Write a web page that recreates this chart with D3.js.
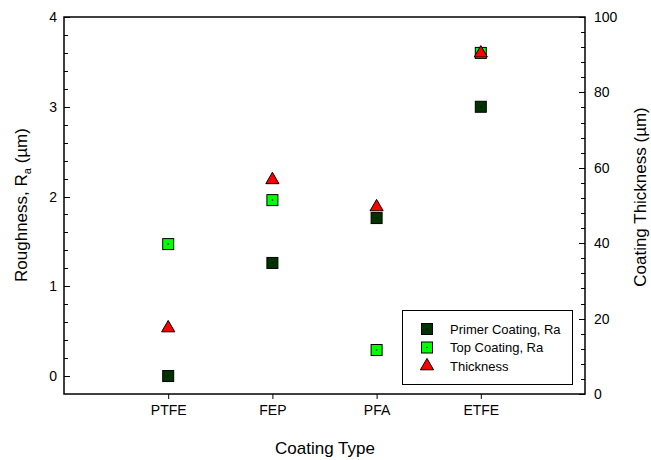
<!DOCTYPE html>
<html>
<head>
<meta charset="utf-8">
<script src="https://cdn.jsdelivr.net/npm/d3@7"></script>
<style>
  html, body { margin: 0; padding: 0; background: #fff; }
  svg { display: block; font-family: Arial, "Liberation Sans", sans-serif; }
</style>
</head>
<body>
<svg id="chart" width="651" height="460"></svg>
<script>
// Coating types along the x axis
const categories = ["PTFE", "FEP", "PFA", "ETFE"];
// Surface roughness Ra (µm), left axis
const primerRa = [0.0, 1.26, 1.76, 3.0];
const topRa = [1.47, 1.96, 0.29, 3.6];
// Coating thickness (µm), right axis
const thickness = [17.5, 56.8, 49.6, 90.4];

const leftTicks = [0, 1, 2, 3, 4];
const rightTicks = [0, 20, 40, 60, 80, 100];

const svg = d3.select("#chart");
const frame = { left: 64, right: 585, top: 17, bottom: 394 };

const x = d3.scaleLinear().domain([0, categories.length + 1]).range([frame.left, frame.right]);
const yL = d3.scaleLinear().domain([-0.2, 4]).range([frame.bottom, frame.top]);
const yR = d3.scaleLinear().domain([0, 100]).range([frame.bottom, frame.top]);

// left axis: minor ticks every 0.2, labelled majors every 1
const leftMinor = d3.range(0, 4.0001, 0.2).map(v => +v.toFixed(1));
svg.append("g").selectAll("line").data(leftMinor).join("line")
  .attr("x1", frame.left)
  .attr("x2", d => frame.left + (Math.abs(d - Math.round(d)) < 1e-6 ? 6 : 4))
  .attr("y1", d => Math.round(yL(d)) + 0.5).attr("y2", d => Math.round(yL(d)) + 0.5)
  .attr("stroke", "#000").attr("stroke-width", 1);
svg.append("g").selectAll("text").data(leftTicks).join("text")
  .attr("x", frame.left - 7).attr("y", d => yL(d) + 5)
  .attr("text-anchor", "end").attr("font-size", 14).text(d => d);

// right axis: minor ticks every 4, labelled majors every 20
const rightMinor = d3.range(0, 100.001, 4);
svg.append("g").selectAll("line").data(rightMinor).join("line")
  .attr("x1", frame.right)
  .attr("x2", d => frame.right - (d % 20 === 0 ? 6 : 4))
  .attr("y1", d => Math.round(yR(d)) + 0.5).attr("y2", d => Math.round(yR(d)) + 0.5)
  .attr("stroke", "#000").attr("stroke-width", 1);
svg.append("g").selectAll("text").data(rightTicks).join("text")
  .attr("x", frame.right + 9).attr("y", d => yR(d) + 5)
  .attr("text-anchor", "start").attr("font-size", 14).text(d => d);

// bottom axis: category ticks pointing outward
const xAxis = d3.axisBottom(x)
  .tickValues(categories.map((c, i) => i + 1))
  .tickFormat(d => categories[d - 1])
  .tickSize(5).tickSizeOuter(0).tickPadding(6);
const gx = svg.append("g").attr("transform", `translate(0,${frame.bottom})`).call(xAxis);
gx.select(".domain").remove();
gx.selectAll("text").attr("font-size", 14).attr("font-family", "Arial, 'Liberation Sans', sans-serif").attr("fill", "#000");
gx.selectAll("line").attr("stroke", "#000");

// frame
svg.append("rect")
  .attr("x", frame.left).attr("y", frame.top)
  .attr("width", frame.right - frame.left).attr("height", frame.bottom - frame.top)
  .attr("fill", "none").attr("stroke", "#000").attr("stroke-width", 1.5);

// axis titles
svg.append("text").attr("x", 325).attr("y", 454).attr("text-anchor", "middle")
  .attr("font-size", 17).text("Coating Type");

const lt = svg.append("text").attr("transform", "translate(27,205) rotate(-90)")
  .attr("text-anchor", "middle").attr("font-size", 17);
lt.append("tspan").text("Roughness, R");
lt.append("tspan").attr("font-size", 11).attr("dy", 4).text("a");
lt.append("tspan").attr("dy", -4).text(" (\u00b5m)");

svg.append("text").attr("transform", "translate(646,197) rotate(-90)")
  .attr("text-anchor", "middle").attr("font-size", 17).text("Coating Thickness (\u00b5m)");

// markers
const sq = 11;
function squares(vals, fill) {
  const g = svg.append("g");
  g.selectAll("rect").data(vals).join("rect")
    .attr("x", (d, i) => x(i + 1) - sq / 2).attr("y", d => yL(d) - sq / 2)
    .attr("width", sq).attr("height", sq)
    .attr("fill", fill).attr("stroke", "#000").attr("stroke-width", 1);
  g.selectAll("circle").data(vals).join("circle")
    .attr("cx", (d, i) => x(i + 1)).attr("cy", d => yL(d)).attr("r", 0.8).attr("fill", "#000");
}
squares(primerRa, "#003300");
squares(topRa, "#00ff00");

const tri = d3.symbol().type(d3.symbolTriangle).size(75);
svg.append("g").selectAll("path").data(thickness).join("path")
  .attr("d", tri)
  .attr("transform", (d, i) => `translate(${x(i + 1)},${yR(d)})`)
  .attr("fill", "#ff0000").attr("stroke", "#000").attr("stroke-width", 1);

// legend
const legend = svg.append("g");
legend.append("rect").attr("x", 402.5).attr("y", 310.5).attr("width", 170).attr("height", 74)
  .attr("fill", "#fff").attr("stroke", "#000").attr("stroke-width", 1);
const items = [
  { label: "Primer Coating, Ra", kind: "sq", fill: "#003300" },
  { label: "Top Coating, Ra", kind: "sq", fill: "#00ff00" },
  { label: "Thickness", kind: "tri", fill: "#ff0000" }
];
const rowY = d3.scalePoint().domain(items.map(d => d.label)).range([329, 366]);
items.forEach(it => {
  const cy = rowY(it.label);
  if (it.kind === "sq") {
    legend.append("rect").attr("x", 427 - sq / 2).attr("y", cy - sq / 2).attr("width", sq).attr("height", sq)
      .attr("fill", it.fill).attr("stroke", "#000").attr("stroke-width", 1);
    legend.append("circle").attr("cx", 427).attr("cy", cy).attr("r", 0.8).attr("fill", "#000");
  } else {
    legend.append("path").attr("d", tri).attr("transform", `translate(427,${cy})`)
      .attr("fill", it.fill).attr("stroke", "#000").attr("stroke-width", 1);
  }
  legend.append("text").attr("x", 450).attr("y", cy + 4.5).attr("font-size", 13).text(it.label);
});
</script>
</body>
</html>
